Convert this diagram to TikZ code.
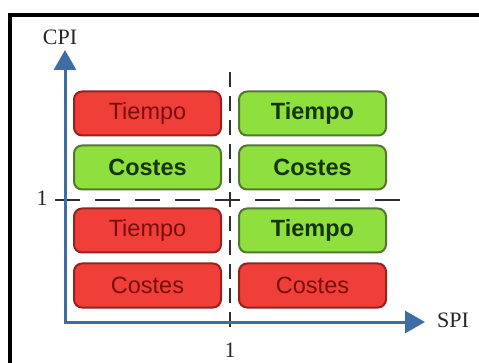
\documentclass[tikz,border=0pt]{standalone}
\usepackage{fontspec}
\setmainfont{Liberation Serif}
\setsansfont{Liberation Sans}
\usetikzlibrary{arrows.meta}
\definecolor{redfill}{RGB}{240,62,56}
\definecolor{redline}{RGB}{150,34,30}
\definecolor{redtext}{RGB}{122,14,14}
\definecolor{greenfill}{RGB}{143,224,62}
\definecolor{greenline}{RGB}{80,120,46}
\definecolor{greentext}{RGB}{20,52,10}
\definecolor{axisblue}{RGB}{62,108,165}
\definecolor{dashgray}{RGB}{45,45,55}
\tikzset{
  cell/.style={rounded corners=8pt, line width=2pt, minimum width=147pt, minimum height=44pt,
    inner sep=0pt, font=\sffamily\fontsize{23.5}{26}\selectfont},
  badcell/.style={cell, draw=redline, fill=redfill, text=redtext},
  goodcell/.style={cell, draw=greenline, fill=greenfill, text=greentext, font=\sffamily\bfseries\fontsize{23.5}{26}\selectfont},
  axislabel/.style={font=\fontsize{22}{24}\selectfont, text=black!85, inner sep=0pt},
  axisline/.style={draw=axisblue, line width=3pt, {Triangle[length=20pt,width=22pt]}-{Triangle[length=20pt,width=22pt]}},
  guide/.style={draw=dashgray, line width=1.6pt}
}
\begin{document}
\begin{tikzpicture}[x=1pt,y=-1pt]
\useasboundingbox (0,0) rectangle (479,363);
% frame (cropped)
\draw[line width=4pt] (10,363) -- (10,15) -- (479,15);
% guides
\coordinate (hl) at (50,200);
\coordinate (hr) at (403,200);
\coordinate (vt) at (230,72);
\coordinate (vb) at (230,335);
\draw[guide, dash pattern=on 25pt off 15pt, dash phase=35pt] (hl) -- (hr);
\draw[guide, dash pattern=on 15pt off 9pt] (vt) -- (vb);
% axes
\coordinate (ytip) at (65,50);
\coordinate (O) at (65,322);
\coordinate (xtip) at (425,322);
\draw[axisline] (ytip) -- (O) -- (xtip);
\node[axislabel] (cpi) at (60,37) {CPI};
\node[axislabel] (spi) at (453,320) {SPI};
\node[axislabel] (one-y) at (42,198) {1};
\node[axislabel] (one-x) at (230,350) {1};
% cells
\node[badcell]  (tl1) at (147.5,113.5) {Tiempo};
\node[goodcell] (tl2) at (147.5,167.5) {Costes};
\node[goodcell] (tr1) at (312.5,113.5) {Tiempo};
\node[goodcell] (tr2) at (312.5,167.5) {Costes};
\node[badcell]  (bl1) at (147.5,230.5) {Tiempo};
\node[badcell]  (bl2) at (147.5,285.5) {Costes};
\node[goodcell] (br1) at (312.5,230.5) {Tiempo};
\node[badcell]  (br2) at (312.5,285.5) {Costes};
\end{tikzpicture}
\end{document}
